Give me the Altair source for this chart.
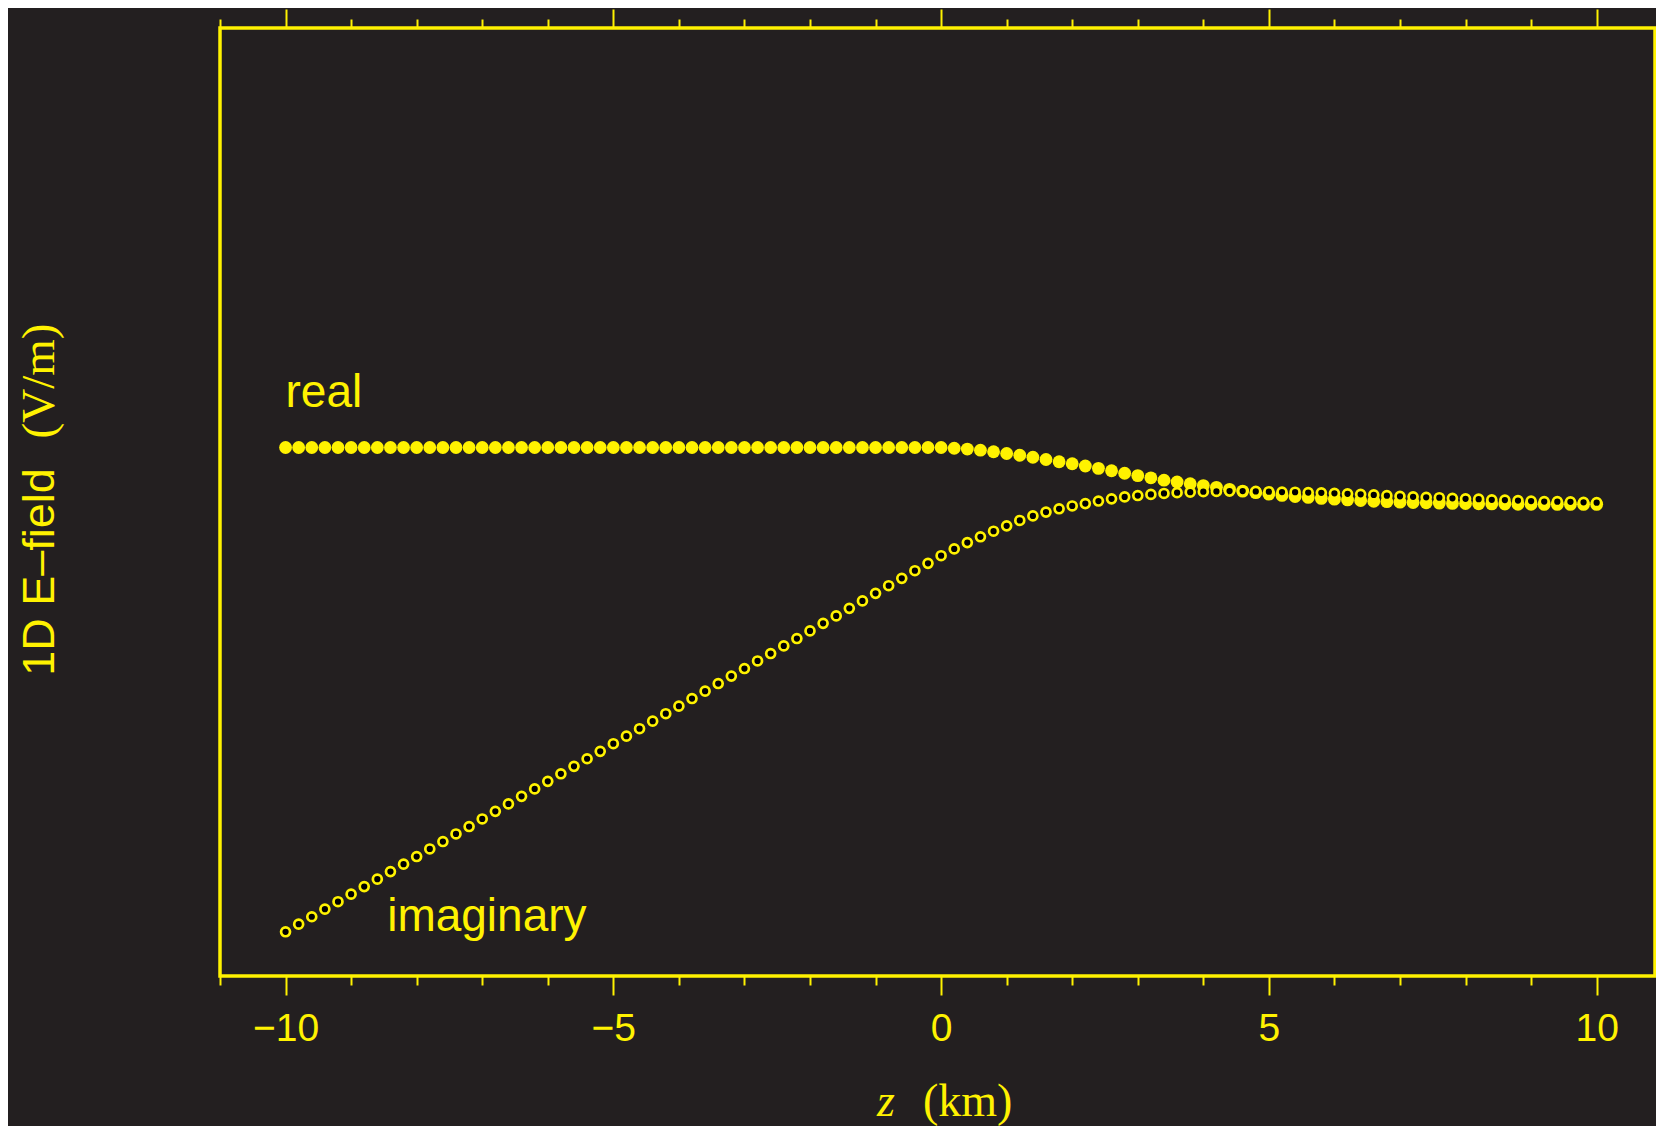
import altair as alt
import pandas as pd

# ---- data ----
z = [round(-10 + 0.2 * i, 1) for i in range(101)]

real = [
    0.0345, 0.0345, 0.0345, 0.0345, 0.0345, 0.0345, 0.0345, 0.0345, 0.0345, 0.0345,
    0.0345, 0.0345, 0.0345, 0.0345, 0.0345, 0.0345, 0.0345, 0.0345, 0.0345, 0.0345,
    0.0345, 0.0345, 0.0345, 0.0345, 0.0345, 0.0345, 0.0345, 0.0345, 0.0345, 0.0345,
    0.0345, 0.0345, 0.0345, 0.0345, 0.0345, 0.0345, 0.0345, 0.0345, 0.0345, 0.0345,
    0.0345, 0.0345, 0.0345, 0.0345, 0.0345, 0.0345, 0.0345, 0.0345, 0.0345, 0.0345,
    0.0345,
    0.0340, 0.0335, 0.0328, 0.0318, 0.0307, 0.0296, 0.0283, 0.0269, 0.0255, 0.0242,
    0.0228, 0.0213, 0.0198, 0.0182, 0.0167, 0.0153, 0.0138, 0.0127, 0.0116, 0.0104,
    0.0093, 0.0080, 0.0069, 0.0059, 0.0050, 0.0042, 0.0035, 0.0029, 0.0023, 0.0018,
    0.0013, 0.0009, 0.0005, 0.0002, -0.0001, -0.0003, -0.0005, -0.0007, -0.0009, -0.0010,
    -0.0011, -0.0012, -0.0013, -0.0014, -0.0014, -0.0015, -0.0015, -0.0015, -0.0015, -0.0015,
]

imag = [
    -0.2720, -0.2672, -0.2625, -0.2577, -0.2530, -0.2482, -0.2434, -0.2387, -0.2339, -0.2292,
    -0.2244, -0.2196, -0.2149, -0.2101, -0.2054, -0.2006, -0.1958, -0.1911, -0.1863, -0.1816,
    -0.1768, -0.1720, -0.1673, -0.1625, -0.1578, -0.1530, -0.1482, -0.1435, -0.1387, -0.1340,
    -0.1292, -0.1244, -0.1197, -0.1149, -0.1102, -0.1054, -0.1006, -0.0959, -0.0911, -0.0864,
    -0.0816, -0.0768, -0.0721, -0.0673, -0.0626, -0.0578, -0.0530, -0.0483, -0.0435, -0.0388,
    -0.0340,
    -0.0297, -0.0257, -0.0220, -0.0185, -0.0151, -0.0117, -0.0088, -0.0064, -0.0043, -0.0025,
    -0.0010, 0.0006, 0.0020, 0.0032, 0.0041, 0.0048, 0.0054, 0.0059, 0.0062, 0.0065,
    0.0067, 0.0069, 0.0069, 0.0067, 0.0065, 0.0063, 0.0062, 0.0060, 0.0058, 0.0055,
    0.0052, 0.0049, 0.0045, 0.0040, 0.0036, 0.0033, 0.0030, 0.0027, 0.0023, 0.0020,
    0.0018, 0.0014, 0.0012, 0.0009, 0.0006, 0.0003, 0.0002, 0.0001, -0.0002, -0.0004,
]

x_ticks = [-11, -10, -9, -8, -7, -6, -5, -4, -3, -2, -1, 0, 1, 2, 3, 4, 5, 6, 7, 8, 9, 10]
y_ticks = [-0.3, -0.2, -0.1, 0.0, 0.1, 0.2, 0.3]

label_text = ["real", "imaginary"]
label_x = [-10.0, -8.45]
label_y = [0.0604, -0.2713]

YEL = "#fff200"
BG = "#231f20"
W, H = 1435, 948

df = pd.DataFrame({"z": z, "re": real, "im": imag})
lab = pd.DataFrame({"t": label_text, "lx": label_x, "ly": label_y})

xscale = alt.Scale(domain=[-11, 10.89], nice=False, zero=False)
yscale = alt.Scale(domain=[-0.3, 0.3], nice=False, zero=False)

x_major = "datum.value % 5 == 0"
y_major = "round(datum.value * 10) % 2 == 0"

bottom_axis = alt.Axis(
    orient="bottom", values=x_ticks, title=None, domain=False, grid=False,
    tickColor=YEL, tickWidth=2,
    tickSize={"condition": {"test": x_major, "value": 19}, "value": 9},
    labelExpr=f"{x_major} ? datum.label : ''",
    labelColor=YEL, labelFont="Liberation Sans", labelFontSize=39,
    labelPadding=14, labelFlush=False, labelOverlap=False,
)
top_axis = alt.Axis(
    orient="top", values=x_ticks, title=None, domain=False, grid=False,
    tickColor=YEL, tickWidth=2,
    tickSize={"condition": {"test": x_major, "value": 19}, "value": 9},
    labels=False,
)
left_axis = alt.Axis(
    orient="left", values=y_ticks, title=None, domain=False, grid=False,
    tickColor=YEL, tickWidth=2,
    tickSize={"condition": {"test": y_major, "value": 19}, "value": 9},
    format=".1f",
    labelExpr=f"{y_major} ? datum.label : ''",
    labelColor=YEL, labelFont="Liberation Sans", labelFontSize=39,
    labelPadding=20, labelFlush=False, labelOverlap=False,
)

real_pts = alt.Chart(df).mark_circle(size=165, color=YEL, opacity=1).encode(
    x=alt.X("z:Q", scale=xscale, axis=bottom_axis),
    y=alt.Y("re:Q", scale=yscale, axis=left_axis),
)

imag_pts = alt.Chart(df).mark_point(
    shape="circle", size=80, filled=True, fill="#000000", stroke=YEL,
    strokeWidth=2.7, opacity=1,
).encode(
    x=alt.X("z:Q", scale=xscale, axis=top_axis),
    y=alt.Y("im:Q", scale=yscale, axis=None),
)

labels = alt.Chart(lab).mark_text(
    font="Liberation Sans", fontSize=46, color=YEL, align="left", baseline="alphabetic",
).encode(
    x=alt.X("lx:Q", scale=xscale, axis=None),
    y=alt.Y("ly:Q", scale=yscale, axis=None),
    text="t:N",
)

one = pd.DataFrame({"a": [0]})
ytitle1 = alt.Chart(one).mark_text(
    text="1D E\u2013field", font="Liberation Sans", fontSize=45, color=YEL,
    angle=270, align="center", baseline="alphabetic",
).encode(x=alt.value(-166), y=alt.value(544))
ytitle2 = alt.Chart(one).mark_text(
    text="(V/m)", font="Liberation Serif", fontSize=47, color=YEL,
    angle=270, align="center", baseline="alphabetic",
).encode(x=alt.value(-166), y=alt.value(353))
xtitle1 = alt.Chart(one).mark_text(
    text="z", font="Liberation Serif", fontStyle="italic", fontSize=46, color=YEL,
    align="left", baseline="alphabetic",
).encode(x=alt.value(657), y=alt.value(H + 140))
xtitle2 = alt.Chart(one).mark_text(
    text="(km)", font="Liberation Serif", fontSize=46, color=YEL,
    align="left", baseline="alphabetic",
).encode(x=alt.value(703), y=alt.value(H + 140))

chart = (
    alt.layer(real_pts, imag_pts, labels, ytitle1, ytitle2, xtitle1, xtitle2)
    .resolve_axis(x="independent")
    .properties(
        width=W, height=H, background=BG,
        autosize=alt.AutoSizeParams(type="none"),
        padding={"left": 212, "top": 20, "right": 1, "bottom": 150},
    )
    .configure_view(stroke=YEL, strokeWidth=3.5, fill=BG)
)

chart.save("out.html", embed_options={"renderer": "svg", "actions": False})
